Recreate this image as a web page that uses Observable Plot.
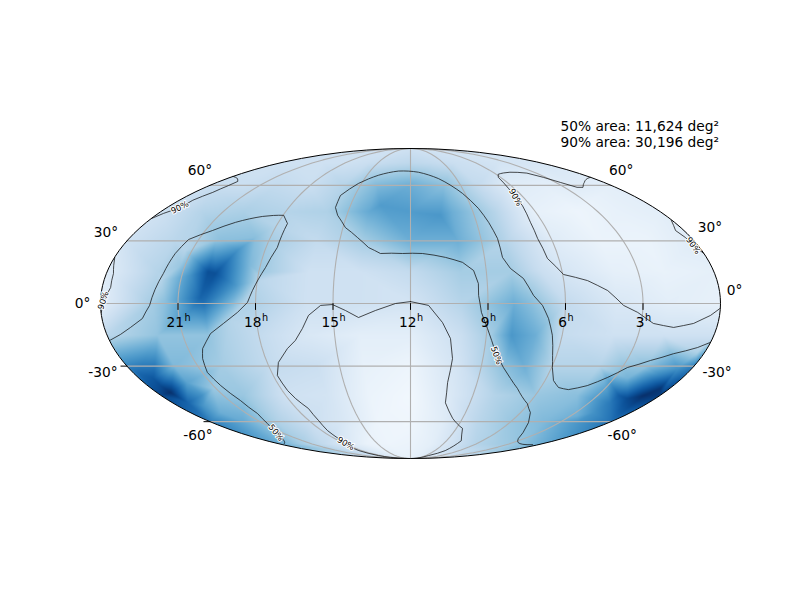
<!DOCTYPE html>
<html>
<head>
<meta charset="utf-8">
<style>html,body{margin:0;padding:0;background:#fff}</style>
<script src="https://cdn.jsdelivr.net/npm/d3@7"></script>
<script src="https://cdn.jsdelivr.net/npm/@observablehq/plot@0.6"></script>
</head>
<body>
<div id="chart"></div>
<script>
// Sky map values: right ascension in hours, declination in degrees
const raColumns = [24, 22, 20, 18, 16, 14, 12, 10, 8, 6, 4, 2, 0];
const decRows = [90, 75, 60, 45, 30, 15, 0, -15, -30, -45, -60, -75, -90];
const density = [
  [.20,.20,.20,.20,.20,.20,.20,.20,.20,.20,.20,.20,.20],
  [.20,.20,.20,.20,.22,.25,.27,.25,.22,.20,.18,.17,.16],
  [.22,.22,.25,.22,.30,.45,.50,.42,.25,.12,.10,.12,.10],
  [.20,.30,.33,.30,.32,.52,.58,.50,.30,.08,.05,.08,.10],
  [.20,.28,.42,.35,.25,.35,.50,.50,.30,.12,.06,.06,.12],
  [.12,.30,.88,.38,.20,.20,.25,.35,.35,.17,.09,.07,.09],
  [.10,.35,.75,.32,.20,.20,.18,.30,.50,.25,.15,.10,.08],
  [.28,.40,.40,.25,.15,.10,.10,.22,.60,.24,.20,.20,.20],
  [.68,.45,.35,.25,.22,.08,.05,.18,.42,.30,.30,.42,.70],
  [.92,.62,.38,.20,.18,.06,.03,.15,.30,.38,.42,.82,.95],
  [.70,.52,.32,.22,.15,.05,.04,.12,.28,.38,.45,.60,.75],
  [.50,.35,.25,.15,.07,.05,.06,.10,.20,.30,.35,.40,.50],
  [.08,.08,.08,.08,.08,.08,.08,.08,.08,.08,.08,.08,.08]
];
// Further readings between the grid nodes: [RA hours, declination, density]
const detailSamples = [
  [19.7,14.2,.88],[20.14,2.8,.8],[20.5,-3,.65],[19.13,25.3,.62],[18.63,31.7,.42],[18.05,37.7,.3],
  [21.2,18,.38],[21.27,25.3,.3],[20.26,30.2,.4],[17.87,10.8,.28],[18.39,1.4,.32],[19,-8,.3],
  [21.49,1.4,.42],[21.78,10.8,.3],[18.4,18,.45],[18.82,8.5,.6],[20.66,13.2,.62],
  [23.81,-33.2,.78],[23.4,-39.9,.9],[23.37,-36.2,.85],[23.35,-43.6,1],[23.23,-49.1,.8],[22.64,-50.7,.6],[22.34,-54.6,.5],[22.05,-38.3,.55],[21.12,-41.4,.38],
  [.8,-45.3,1],[.43,-41.4,.98],[1.37,-46.8,.9],[1.93,-49.1,.72],[2.04,-54.6,.62],[2.63,-56.4,.5],
  [2.06,-31.2,.42],[.61,-31.2,.62],[2.4,-36.2,.48],[1.06,-34.7,.68],[.29,-23.3,.32],
  [7.06,-15,.5],[8.84,-15,.35],[7.35,1.4,.42],[7.06,-32.3,.48],[6.85,15.6,.22],
  [10.59,43.1,.6],[13.5,48.4,.58]
];

// Credible-region contours as [RA hours, declination degrees]
const contour50a = [[23.99,-17.5],[23.46,-14.65],[22.97,-11.3],[22.43,-7.1],[22.1,-.9],[21.75,14.2],[21.62,23.85],[21.43,30.7],[20.69,35.2],[19.95,39.4],[18.92,42.5],[17.97,43.1],[17.56,38.8],[17.53,26.7],[17.77,17],[18.14,6.1],[18.31,.5],[18.71,-4.2],[19.3,-9.4],[19.89,-14.2],[20.41,-21.4],[20.61,-26.3],[20.78,-33.2],[20.66,-39.9],[20.44,-47.9],[20.41,-55.2],[20.75,-61.1],[21.42,-67],[23.4,-74.7]];
const contour50b = [[.53,-75.6],[2.54,-74],[3.48,-71.1],[4.12,-67],[4.86,-60.6],[5.47,-54.6],[6.07,-49.6],[7.05,-41.4],[7.58,-36.2],[8.05,-30.7],[8.53,-23.3],[8.98,-11.8],[9.25,-4.2],[9.36,3.8],[9.35,9.4],[9.5,15.6],[9.91,19.5],[10.58,21.9],[11.51,23.8],[12.33,23.8],[13.23,23.8],[13.74,26.7],[14.27,31.7],[14.89,36.7],[15.43,43.1],[15.7,47.3],[15.78,54],[15.18,61.2],[14.2,66.4],[12.89,69.2],[11.42,68.4],[10.17,64.2],[9.14,55.2],[8.67,46.8],[8.45,39.4],[8.29,31.2],[8.27,21.9],[8.03,16.6],[7.57,11.8],[7.23,3.8],[6.89,-.9],[6.63,-7.1],[6.39,-15],[6.16,-24.8],[5.97,-30.7],[5.62,-37.3],[5.18,-40.9],[4.65,-42],[3.93,-39.9],[3.32,-35.7],[2.78,-30.7],[2.01,-27.2],[1.24,-23.9],[.41,-20.9],[.02,-18.5]];
const contour90a = [[23.99,41.4],[23.75,44.1],[23.34,47.3],[23.3,51.3],[22.98,55.8],[22.86,59.9],[22.85,62.4],[23.31,64.2],[23.99,65.6]];
const contour90b = [[23.99,21.9],[23.72,14.2],[23.67,7.5],[23.82,2.8],[23.99,-4.2]];
const contour90c = [[12,.9],[11.3,-.9],[10.75,-9],[10.41,-16.6],[10.26,-26.3],[10.33,-38.3],[10.24,-49.1],[9.57,-58],[8.6,-64.2],[7.77,-72.6],[7.73,-80.5],[8.4,-85.5],[12,-90],[18.4,-85.5],[18.34,-80.5],[18.1,-76.4],[17.68,-71.1],[17.61,-65.6],[17.43,-59.4],[17.37,-52.3],[17.63,-46.8],[17.75,-42.5],[17.82,-34.7],[17.53,-28.2],[16.98,-21.4],[16.59,-17.5],[16.24,-11.8],[15.96,-5.6],[15.48,-.9],[15.02,-.5],[14.52,-3.3],[14.02,-6.6],[13.36,-3.3],[12.58,0],[12,.9]];
const contour90d = [[.03,65],[1.22,61.8],[1.91,58.8],[2.26,58.8],[2.71,61.8],[3.15,65],[3.67,67.8],[4.76,68.4],[5.86,67],[6.15,65],[6.34,58],[6.43,52.9],[6.41,48.4],[6.55,39.4],[6.58,31.2],[6.46,21.4],[5.97,13.7],[5.07,10.8],[4.34,6.1],[3.75,-.9],[3.19,-4.2],[2.52,-9.4],[1.69,-11.3],[.95,-9.4],[.35,-5.6],[.02,-2.4]];
const contour90e = [[.04,40.4],[.37,35.2],[.24,31.7],[.18,27.7],[.01,23.9]];
const contours = [contour50a, contour50b, contour90a, contour90b, contour90c, contour90d, contour90e];

const contourLabels = [
  {text:"90%", ra:23.38, dec:47.3, angle:-27},
  {text:"90%", ra:6.43, dec:52.9, angle:62},
  {text:"90%", ra:.2, dec:27.7, angle:55},
  {text:"90%", ra:23.89, dec:1.4, angle:-72},
  {text:"50%", ra:8.47, dec:-24.8, angle:70},
  {text:"50%", ra:21.42, dec:-67, angle:50},
  {text:"90%", ra:17.85, dec:-74.7, angle:30}
];

const hourTicks = [21, 18, 15, 12, 9, 6, 3];
const hourTicksTwoDigit = [21, 18, 15, 12];
const hourTicksOneDigit = [9, 6, 3];
const decTicks = [-60, -30, 0, 30, 60];
const annotation = "50% area: 11,624 deg²\n90% area: 30,196 deg²";

// [declination, edge RA, dx, dy]
const decLabels = [
  [60, 23.999, -10, -15], [30, 23.999, -21, -8], [0, 23.999, -18, 0], [-30, 23.999, -24, 6], [-60, 23.999, -12, 14],
  [60, .001, 10, -15], [30, .001, 16, -13], [0, .001, 14, -13], [-30, .001, 23, 6], [-60, .001, 11, 14]
];

// Mollweide projection
function mollweideRaw(lambda, phi) {
  let t = phi;
  if (Math.abs(phi) < Math.PI / 2 - 1e-7) {
    const target = Math.PI * Math.sin(phi);
    for (let i = 0; i < 40; ++i) {
      const d = (2 * t + Math.sin(2 * t) - target) / (2 + 2 * Math.cos(2 * t));
      t -= d;
      if (Math.abs(d) < 1e-9) break;
    }
  }
  return [2 * Math.SQRT2 / Math.PI * lambda * Math.cos(t), Math.SQRT2 * Math.sin(t)];
}
const projection = d3.geoProjection(mollweideRaw)
  .rotate([-180, 0])
  .reflectX(true)
  .scale(310 / (2 * Math.SQRT2))
  .translate([410, 303])
  .precision(0.1);

const toLon = (h) => Math.min(359.99, Math.max(0.01, h * 15));
const samples = decRows.flatMap((dec, i) => raColumns.map((ra, j) => ({lon: toLon(ra), lat: dec, v: density[i][j]})))
  .concat(detailSamples.map(([ra, dec, v]) => ({lon: toLon(ra), lat: dec, v})));
const line = (pts) => ({type: "LineString", coordinates: pts.map(([h, d]) => [toLon(h), d])});
const meridian = (h) => ({type: "LineString", coordinates: d3.range(-90, 91, 5).map((d) => [h * 15, d])});
const parallel = (d) => ({type: "LineString", coordinates: d3.range(0.01, 360, 5).concat(359.99).map((l) => [l, d])});
const tickShape = {draw(c, l) { c.moveTo(0, 0); c.lineTo(0, -l); }};

const FONT = 13.75;
const hourText = (list, dxEnd) => [
  Plot.text(list, {x: (h) => h * 15, y: () => 0, text: (h) => `${h}`, dx: dxEnd, dy: 19, textAnchor: "end", fontSize: FONT, fill: "black"}),
  Plot.text(list, {x: (h) => h * 15, y: () => 0, text: () => "h", dx: dxEnd + 0.5, dy: 14.5, textAnchor: "start", fontSize: 9.7, fill: "black"})
];
const marks = [
  Plot.raster(samples, {x: "lon", y: "lat", fill: "v", interpolate: "barycentric", clip: "sphere"}),
  Plot.geo(hourTicks.map(meridian), {stroke: "#b0b0b0", strokeWidth: 1.1, fill: "none"}),
  Plot.geo(decTicks.map(parallel), {stroke: "#b0b0b0", strokeWidth: 1.1, fill: "none"}),
  Plot.sphere({stroke: "black", strokeWidth: 1}),
  Plot.geo(contours.map(line), {stroke: "#111", strokeWidth: 0.75, fill: "none"}),
  Plot.text(contourLabels, {x: (d) => toLon(d.ra), y: "dec", text: "text", rotate: "angle", fontSize: 8.33, fill: "black", stroke: "white", strokeWidth: 2}),
  Plot.vector(hourTicks, {x: (h) => h * 15, y: () => 0, length: 6, rotate: 180, anchor: "start", shape: tickShape, stroke: "black", strokeWidth: 1}),
  Plot.vector([-30, -60], {x: () => toLon(24), y: (d) => d, length: 6, rotate: 270, anchor: "start", shape: tickShape, stroke: "black", strokeWidth: 1}),
  ...hourText(hourTicksTwoDigit, 6),
  ...hourText(hourTicksOneDigit, 1.5),
  ...decLabels.map(([dec, ra, dx, dy]) =>
    Plot.text([dec], {x: () => toLon(ra), y: (d) => d, text: (d) => `${d}°`, dx, dy, fontSize: FONT, fill: "black"})),
  Plot.text([annotation], {frameAnchor: "top-right", dx: -240, dy: 119, fontSize: FONT, lineHeight: 1.16, fill: "black", textAnchor: "start"})
];

const chart = Plot.plot({
  width: 800, height: 600, margin: 0,
  projection,
  color: {type: "linear", scheme: "Blues", domain: [0, 1]},
  style: {fontFamily: "'DejaVu Sans'", background: "white", color: "black"},
  marks
});
document.getElementById("chart").append(chart);
</script>
</body>
</html>
